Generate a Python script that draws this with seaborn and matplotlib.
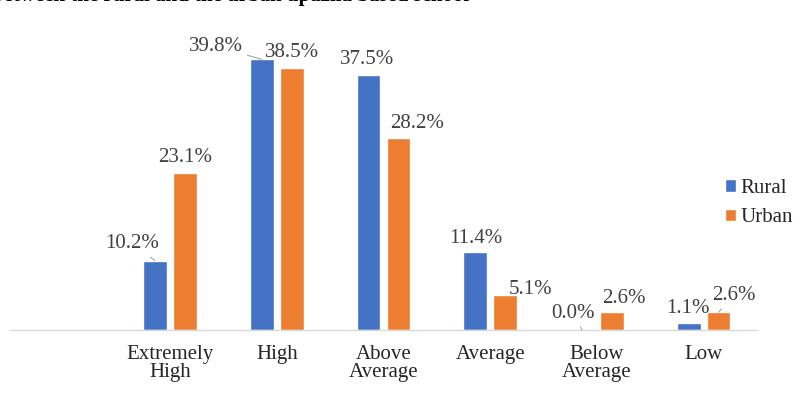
import pandas as pd
import numpy as np
import matplotlib
matplotlib.use('Agg')
import matplotlib.pyplot as plt
import seaborn as sns


# ========== Data ==========

categories = ['Extremely\nHigh', 'High', 'Above\nAverage', 'Average', 'Below\nAverage', 'Low']
groups = ['Rural', 'Urban']
rural = [10.2, 39.8, 37.5, 11.4, 0.0, 1.1]
urban = [23.1, 38.5, 28.2, 5.1, 2.6, 2.6]

# label offsets from bar top (pixels) and leader lines
rural_offsets = [(-23, 17), (-46, 13), (-1, 16), (1, 14), (-9, 17), (-1, 14)]
urban_offsets = [(0, 15), (0, 16), (19, 15), (25, 6), (12, 14), (15, 17)]
rural_leader = [True, True, False, False, True, False]
urban_leader = [False, False, False, False, False, True]

colors = {'Rural': '#4472C4', 'Urban': '#ED7D31'}


# ========== Plot ==========

df = pd.DataFrame({
    'category': categories * 2,
    'group': ['Rural'] * len(categories) + ['Urban'] * len(categories),
    'value': rural + urban,
})

sns.set_style('white')
plt.rcParams['font.family'] = ['Liberation Serif', 'DejaVu Serif']

fig = plt.figure(figsize=(7.97, 3.94), dpi=100)
ax = fig.add_axes([10 / 797, 64 / 394, 747 / 797, 306 / 394])

order = [' '] + categories
sns.barplot(data=df, x='category', y='value', hue='group', order=order,
            hue_order=groups, palette=colors, width=0.56, gap=0.21,
            saturation=1, errorbar=None, ax=ax)

ax.set_xlim(-0.5, len(order) - 0.5)
ax.set_ylim(0, 45)
ax.set_xlabel('')
ax.set_ylabel('')
ax.set_yticks([])
for s in ['top', 'right', 'left']:
    ax.spines[s].set_visible(False)
ax.spines['bottom'].set_color('#d9d9d9')
ax.spines['bottom'].set_linewidth(1)

ax.set_xticks(range(len(order)))
ax.set_xticklabels(order, fontsize=15, color='#262626', linespacing=0.9)
ax.tick_params(axis='x', which='major', length=0, pad=11)
ax.set_xticks(np.arange(-0.5, len(order)), minor=True)
ax.tick_params(axis='x', which='minor', length=5, color='#d9d9d9', width=1)

# data labels
for cont, offs, leads in zip(ax.containers, [rural_offsets, urban_offsets],
                             [rural_leader, urban_leader]):
    for bar, (dx, dy), lead in zip(cont, offs, leads):
        x = bar.get_x() + bar.get_width() / 2
        y = bar.get_height()
        props = None
        if lead:
            props = dict(arrowstyle='-', color='#a6a6a6', lw=0.8,
                         shrinkA=1, shrinkB=0)
        ax.annotate(f'{y:.1f}%', xy=(x, y), xytext=(dx, dy),
                    textcoords='offset pixels', ha='center', va='center',
                    fontsize=15, color='#404040', arrowprops=props,
                    annotation_clip=False)

# legend
ax.legend(loc='center left', bbox_to_anchor=(725 / 797, 1 - 203 / 394),
          bbox_transform=fig.transFigure, frameon=False, fontsize=15,
          handlelength=0.55, handleheight=0.55, handletextpad=0.2,
          labelspacing=0.5, borderaxespad=0, borderpad=0)

# cut-off title at the top
fig.text(-0.01, 1 - 0.5 / 394, 'between the rural and the urban upazila based school',
         fontsize=15, fontweight='bold', color='#000000', va='baseline', ha='left')

fig.savefig('out.png', dpi=100)
